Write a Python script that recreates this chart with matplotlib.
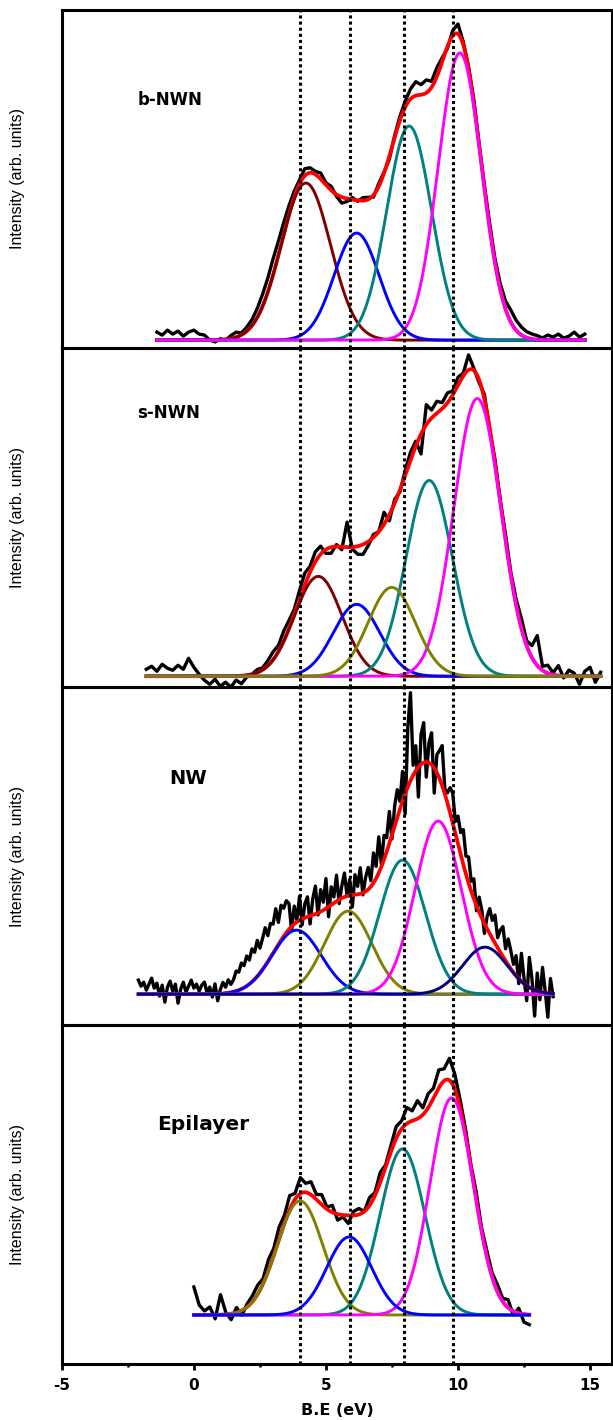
import numpy as np
import matplotlib
matplotlib.use("Agg")
import matplotlib.pyplot as plt
from matplotlib.ticker import MultipleLocator

plt.rcParams['font.family'] = ['DejaVu Sans']
plt.rcParams['axes.unicode_minus'] = False

# binding energy axis (eV)
x_limits = (-5, 15.83)
major_ticks = [-5, 0, 5, 10, 15]
ref_lines = [4.0, 5.9, 7.95, 9.8]   # dotted guide lines

panel_names = ["b-NWN", "s-NWN", "NW", "Epilayer"]

# ---- b-NWN : gaussian fit components (centre eV, height, sigma eV) ----
bnwn_span = (-1.4, 14.8)
bnwn_centres = [4.24, 6.16, 8.15, 10.07]
bnwn_heights = [157, 107, 214, 287]
bnwn_sigmas = [0.935, 0.85, 0.85, 0.82]
bnwn_colors = ['#800000', '#0000ff', '#008080', '#ff00ff']
# measured spectrum minus fit, every 0.2 eV
bnwn_resid = [8, 5, 10, 6, 9, 4, 8, 10, 6, 5,
              0, -2, 1, -1, 3, 5, 2, 4,
              6, 9, 12, 14, 16, 14, 12, 9,
              6, 4, 7, 5, 3, 6,
              2, 4, -2, -6, -3, 2, -1, 3,
              2, -2, 3, 1, -3, 2, 4,
              6, 10, 14, 10, 13, 6, 9,
              4, -2, 5, 10, 3,
              2, 4, 1, 3, 5, 4, 6,
              8, 12, 10, 8, 6, 5,
              4, 2, 5, 3, 6, 2, 4, 8, 3, 6]

# ---- s-NWN ----
snwn_span = (-1.8, 15.4)
snwn_centres = [4.71, 6.16, 8.91, 10.73, 7.49]
snwn_heights = [100, 72, 196, 278, 89]
snwn_sigmas = [0.9, 0.88, 0.88, 0.89, 0.89]
snwn_colors = ['#800000', '#0000ff', '#008080', '#ff00ff', '#808000']
snwn_resid = [7, 10, 5, 12, 8, 6, 11, 7, 18, 9,
              2, -4, -8, -3, -10, -6, -11, -4, -8, -2,
              0, 3, 2, 5, 8, 6, 10,
              8, 5, 9, 12, 6,
              10, 8, -4, -6, 2, -3, 25,
              -2, -8, -10, -4, 3, 0, 12,
              -6, 4, -2, 5, 8,
              5, -20, 20, 8, 12, 6,
              10, 4, 8, 3, 15, 2,
              -3, 5, -2, 4, 2, 6, 3,
              6, 10, 5, 12, 30,
              4, 8, 2, 10, -2, 6, 3, -8, 5, 9, -6, 4]

# ---- NW ----
nw_span = (-2.1, 13.6)
nw_centres = [3.89, 5.84, 7.90, 9.25, 11.02]
nw_heights = [64, 83, 134, 173, 47]
nw_sigmas = [0.93, 0.90, 0.87, 0.875, 0.85]
nw_colors = ['#0000ff', '#808000', '#008080', '#ff00ff', '#000080']
# every 0.1 eV (noisier spectrum)
nw_resid = [14, 8, 12, 4, 10, 16, 6, 11, -2, 9, -8, 7, 13, 3, 10, -9, 5, 12,
            2, 8, 14, 6, 10, 3, 9, 12, 1, 7, -3, 10, -7, 4, 11, 6, 13, 8,
            12, 20, 18, 26, 22, 30, 24, 33, 27, 36, 25, 31, 38, 26, 34, 29,
            40, 22, 35, 28, 32,
            26, -4, 18, 2, 24, -6, 14, 20, -8, 16, 28, -2, 22, 8, 30, -10,
            18, 6, 26, -4, 12, 24, 0, 16, -12, 20, 8, 26, -2, 14,
            22, 6, 30, 12, 36, 2, 24, 14, 32, -4, 20, 28, 8,
            30, -20, 60, 88, 10, 25, -30, 30, 40, -15, 20, 32, -25, 18, 28, 40, 5,
            10, 25, 30, 12, 28, 22, 35, 18, 26, 10,
            20, -5, 15, 8, -10, 12, 25,
            18, 28, 10, 22, 30, 12, 26, 18, 8,
            20, -5, 28, 5, -15, 30, 10, -26, 18, -8, 25, 2, -24, 15, -3]

# ---- Epilayer ----
epi_span = (0.0, 12.7)
epi_centres = [4.02, 7.90, 9.76, 5.88]
epi_heights = [114, 166, 217, 78]
epi_sigmas = [0.87, 0.85, 0.82, 0.85]
epi_colors = ['#808000', '#008080', '#ff00ff', '#0000ff']
epi_resid = [28, 10, 4, 8, -4, 20, 2, -6, 5, -5, 3,
             6, 9, 5, 11, 7, 12, 8,
             14, 6, 16, 9, 13, 5,
             10, 2, 7, -6, -2, -8, 4,
             6, 0, 8, 3, 10, 2, 6,
             12, 8, 16, 10, 18, 7, 14,
             10, 18, 12, 22, 15, 8,
             6, 2, 8, 3, 6, 4, 7,
             3, 8, -4, 5, -8, -10]

panels = [
    (bnwn_span, bnwn_centres, bnwn_heights, bnwn_sigmas, bnwn_colors, bnwn_resid),
    (snwn_span, snwn_centres, snwn_heights, snwn_sigmas, snwn_colors, snwn_resid),
    (nw_span, nw_centres, nw_heights, nw_sigmas, nw_colors, nw_resid),
    (epi_span, epi_centres, epi_heights, epi_sigmas, epi_colors, epi_resid),
]
y_limits = [(-8, 330.5), (-10.5, 328.5), (-31.2, 307.3), (-49, 289.5)]
label_pos = [(0.138, 0.733, 12), (0.136, 0.809, 12), (0.195, 0.728, 14), (0.173, 0.706, 14.5)]


def gauss(x, c, h, s):
    return h * np.exp(-(x - c) ** 2 / (2 * s ** 2))


W, H = 613, 1420
fig = plt.figure(figsize=(W / 100, H / 100), dpi=100)
ax_left = 61.8 / W
ax_width = (612 - 61.8) / W
top_px, bottom_px = 9.5, 1364
panel_h = (bottom_px - top_px) / 4

axes = []
for i, (span, cen, hts, sig, cols, resid) in enumerate(panels):
    y0 = 1 - (top_px + panel_h * (i + 1)) / H
    ax = fig.add_axes([ax_left, y0, ax_width, panel_h / H])
    ax.patch.set_visible(False)
    axes.append(ax)

    xf = np.linspace(span[0], span[1], 800)
    xd = np.linspace(span[0], span[1], len(resid))
    fit = sum(gauss(xf, c, h, s) for c, h, s in zip(cen, hts, sig))
    fit_d = sum(gauss(xd, c, h, s) for c, h, s in zip(cen, hts, sig))

    ax.plot(xd, fit_d + np.array(resid), color='black', lw=2.4, zorder=2, clip_on=False)
    ax.plot(xf, fit, color='#ff0000', lw=2.7, zorder=3)
    for c, h, s, col in zip(cen, hts, sig, cols):
        ax.plot(xf, gauss(xf, c, h, s), color=col, lw=2.1, zorder=4)

    for xv in ref_lines:
        ax.axvline(xv, color='black', lw=2.2, linestyle=(0, (1, 1)), zorder=5)

    ax.set_xlim(*x_limits)
    ax.set_ylim(*y_limits[i])
    ax.set_yticks([])
    for sp in ax.spines.values():
        sp.set_linewidth(2.2)

    lx, ly, fs = label_pos[i]
    ax.text(lx, ly, panel_names[i], transform=ax.transAxes, fontsize=fs,
            fontweight='bold', va='center', ha='left')

    ax.set_ylabel('Intensity (arb. units)', fontsize=11.5, family=['Liberation Sans', 'DejaVu Sans'])
    ax.yaxis.set_label_coords(-0.066, 0.5)

    if i < 3:
        ax.set_xticks([])
    else:
        ax.set_xticks(major_ticks)
        ax.xaxis.set_minor_locator(MultipleLocator(2.5))
        ax.tick_params(axis='x', which='major', direction='out', length=4, width=2,
                       pad=6, labelsize=11)
        ax.tick_params(axis='x', which='minor', direction='out', length=2.5, width=1.8)
        for lab in ax.get_xticklabels():
            lab.set_fontweight('bold')
        ax.set_xlabel('B.E (eV)', fontsize=11.5, fontweight='bold', labelpad=7)

fig.savefig('out.png', dpi=100)
